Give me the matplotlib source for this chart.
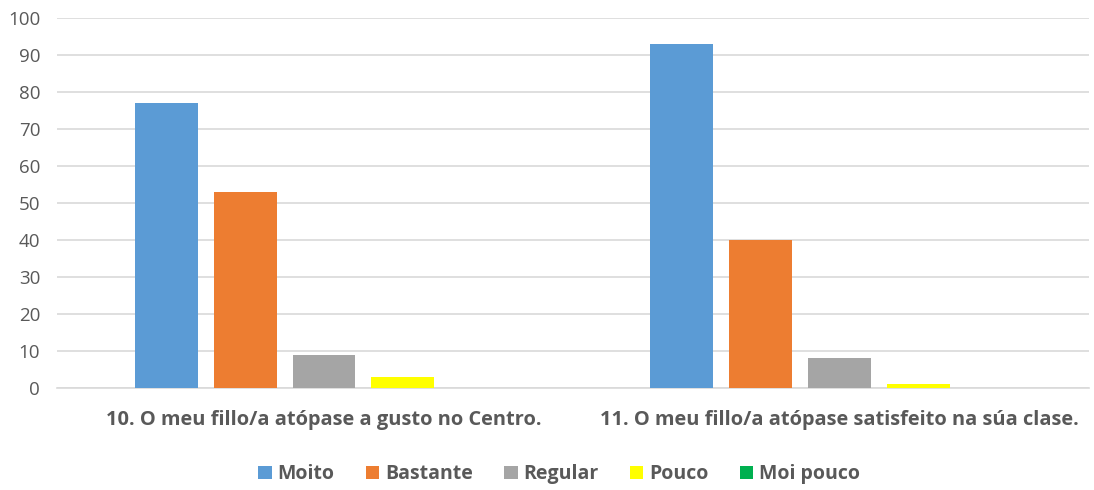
import matplotlib.pyplot as plt
import numpy as np

plt.rcParams['font.family'] = ['Open Sans', 'DejaVu Sans']

categories = ["10. O meu fillo/a atópase a gusto no Centro.",
              "11. O meu fillo/a atópase satisfeito na súa clase."]
series = ["Moito", "Bastante", "Regular", "Pouco", "Moi pouco"]
values = [
    [77, 93],   # Moito
    [53, 40],   # Bastante
    [9, 8],     # Regular
    [3, 1],     # Pouco
    [0, 0],     # Moi pouco
]
colors = ["#5B9BD5", "#ED7D31", "#A5A5A5", "#FFFF00", "#00B050"]
yticks = list(range(0, 101, 10))

fig = plt.figure(figsize=(10.94, 4.9), dpi=100)
ax = fig.add_axes([0.052, 0.208, 0.943, 0.755])

x = np.arange(len(categories))
width = 0.122
step = 0.153
for i, (name, vals) in enumerate(zip(series, values)):
    ax.bar(x + (i - 2) * step, vals, width, color=colors[i], label=name, zorder=3)

ax.set_xlim(-0.518, 1.483)
ax.set_ylim(0, 100)
ax.set_yticks(yticks)
ax.grid(axis='y', color='#D9D9D9', linewidth=1.2, zorder=0)
for s in ['top', 'right', 'left']:
    ax.spines[s].set_visible(False)
ax.spines['bottom'].set_color('#D9D9D9')
ax.spines['bottom'].set_linewidth(1.2)
ax.tick_params(axis='both', length=0, colors='#595959', labelsize=13.5)
ax.tick_params(axis='y', pad=12)
ax.tick_params(axis='x', pad=16)
ax.set_xticks(x)
ax.set_xticklabels(categories, fontweight='bold', fontsize=14.4, color='#595959')

leg = fig.legend(loc='lower center', bbox_to_anchor=(0.511, -0.024), ncol=5, frameon=False,
                 handlelength=0.7, handleheight=0.7, handletextpad=0.3, columnspacing=1.6,
                 prop={'weight': 'bold', 'size': 14})
for t in leg.get_texts():
    t.set_color('#595959')

fig.savefig('out.png', dpi=100)
